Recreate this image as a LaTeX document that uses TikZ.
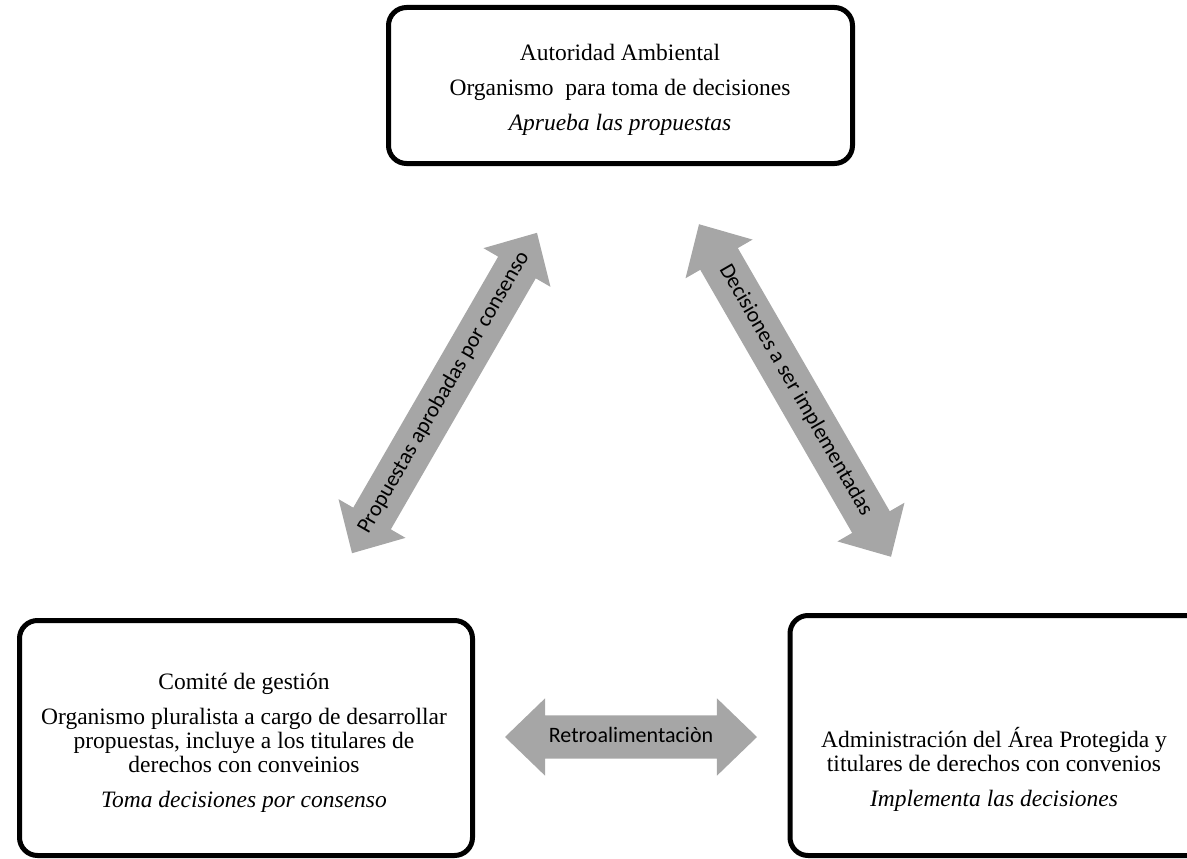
\documentclass[tikz,border=0pt]{standalone}
\usepackage{fontspec}
\setmainfont{Liberation Serif}
\newfontfamily\calib{Carlito}
\usetikzlibrary{shapes.arrows}
\definecolor{arrowgray}{RGB}{166,166,166}
\tikzset{
  box/.style={draw=black, line width=5pt, rounded corners=18pt, rectangle, inner sep=0pt},
  boxtext/.style={align=center, font=\fontsize{23.5}{24}\selectfont, inner sep=0pt},
  blockarrow/.style={double arrow, fill=arrowgray, draw=none,
    font=\calib\fontsize{22}{24}\selectfont, text height=15pt, text depth=5pt,
    inner xsep=0pt, inner ysep=11.5pt, double arrow head extend=17pt,
    double arrow tip angle=88, double arrow head indent=0pt}
}
\begin{document}
\begin{tikzpicture}[x=1pt,y=-1pt]
\useasboundingbox (0,0) rectangle (1187,859);
% boxes
\node[box, minimum width=464pt, minimum height=156pt] (auth) at (620.5,85.5) {};
\node[box, minimum width=453pt, minimum height=235pt] (comite) at (246,738) {};
\node[box, minimum width=420pt, minimum height=240pt] (admin) at (1000,735.5) {};
% texts
\node[boxtext] (authtxt) at (620,90) {Autoridad Ambiental\\[11pt]Organismo\ \ para toma de decisiones\\[11pt]\textit{Aprueba las propuestas}};
\node[boxtext] (comitetxt) at (244,743) {Comité de gestión\\[11pt]Organismo pluralista a cargo de desarrollar\\propuestas, incluye a los titulares de\\derechos con conveinios\\[11pt]\textit{Toma decisiones por consenso}};
\node[boxtext] (admintxt) at (994,769) {Administración del Área Protegida y\\titulares de derechos con convenios\\[11pt]\textit{Implementa las decisiones}};
% block arrows
\node[blockarrow, minimum height=252pt] (retro) at (631,737) {\makebox[0pt][c]{Retroalimentaciòn}};
\node[blockarrow, minimum height=370pt, rotate=60] (prop) at (444.5,393) {\makebox[0pt][c]{Propuestas aprobadas por consenso}};
\node[blockarrow, minimum height=384pt, rotate=-60] (dec) at (795,390.5) {\makebox[0pt][c]{Decisiones a ser implementadas}};
\end{tikzpicture}
\end{document}
